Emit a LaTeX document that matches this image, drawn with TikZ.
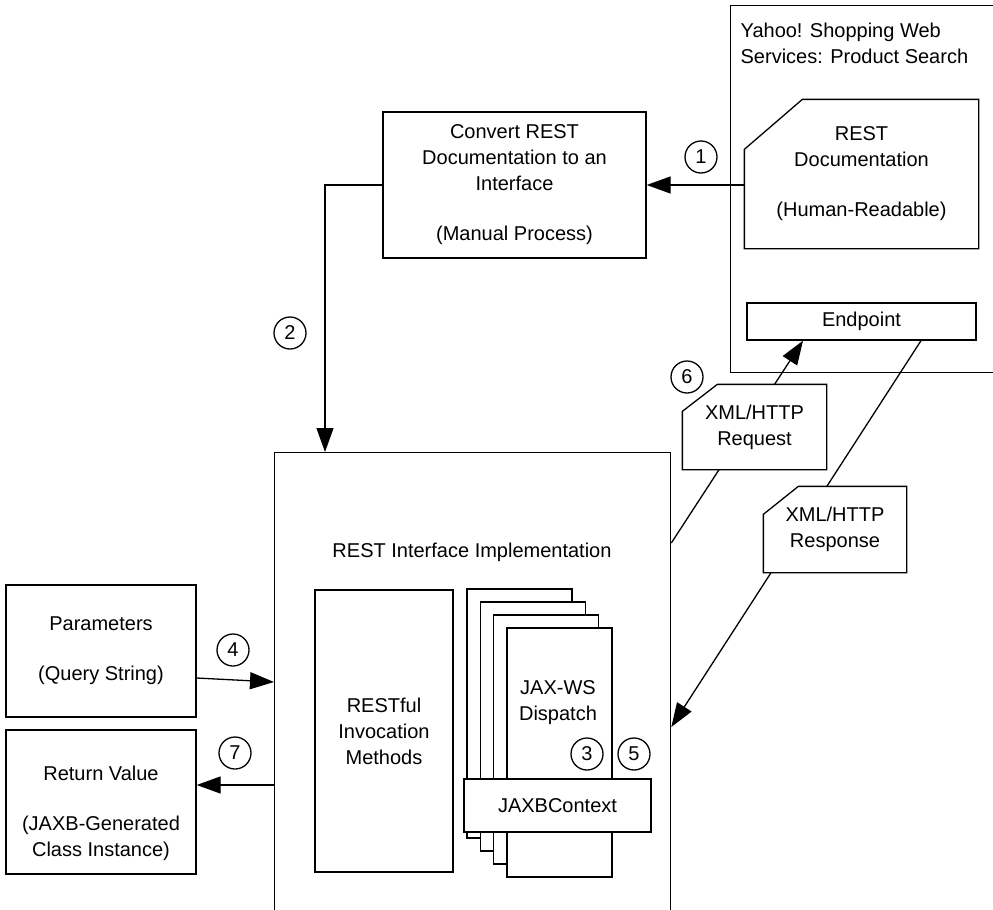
\documentclass[tikz,border=0pt]{standalone}
\usepackage{fontspec}
\setmainfont{Liberation Sans}
\usepackage{tikz}
\usetikzlibrary{arrows.meta}
\newcommand{\cutcorner}[3]{\draw[box, fill=white] ([yshift=-#3]#1.north west) -- ([xshift=#2]#1.north west) -- (#1.north east) -- (#1.south east) -- (#1.south west) -- cycle;}

\begin{document}
\begin{tikzpicture}[x=1pt, y=-1pt, line width=1.3pt,
  every node/.style={font=\fontsize{20}{26}\selectfont, align=center, inner sep=0pt},
  box/.style={draw, rectangle},
  hold/.style={rectangle},
  num/.style={circle, draw, minimum size=32pt},
  arr/.style={-{Triangle[length=24pt, width=17pt]}}]
\path[use as bounding box, clip] (0,0) rectangle (993,910);
\fill[white] (0,0) rectangle (993,910);
% web service side
\node[box, anchor=north west, minimum width=300pt, minimum height=367pt] (yahoo) at (730,5) {};
\node[anchor=north west, align=left] (yahootxt) at (740,22) {Yahoo! Shopping Web\\Services: Product Search};
\node[hold, minimum width=233pt, minimum height=148pt] (doc) at (861.5,174) {};
\cutcorner{doc}{58pt}{50pt}
\node (doctxt) at (doc) {REST\\Documentation\\[24pt](Human-Readable)};
\node[box, minimum width=229pt, minimum height=37pt] (endp) at (861.5,321.5) {Endpoint};
% manual step
\node[box, minimum width=263pt, minimum height=146pt] (conv) at (514.5,185) {Convert REST\\Documentation to an\\Interface\\[24pt](Manual Process)};
% implementation
\node[box, anchor=north west, minimum width=396pt, minimum height=500pt] (main) at (274,452) {};
\node (maintxt) at (472,552) {REST Interface Implementation};
\node[box, minimum width=138pt, minimum height=282pt] (rim) at (384,731) {RESTful\\Invocation\\Methods};
\foreach \i in {0,...,3}
  \node[box, fill=white, minimum width=105pt, minimum height=249pt] (disp\i) at (519.5+13.3*\i, 713.5+13*\i) {};
\node (disptxt) at (558,703) {JAX-WS\\Dispatch};
\node[box, fill=white, minimum width=187pt, minimum height=53pt] (jaxb) at (557.5,805.5) {JAXBContext};
% client side
\node[box, minimum width=190pt, minimum height=132pt] (params) at (101,651) {Parameters\\[24pt](Query String)};
\node[box, minimum width=190pt, minimum height=144pt] (ret) at (101,802) {};
\node (rettxt) at (101,813) {Return Value\\[24pt](JAXB-Generated\\Class Instance)};
% messages
\draw[arr] (main.east |- 0,543) -- (803,0 |- endp.south);
\draw[arr] (921,0 |- endp.south) -- (main.east |- 0,727);
\node[hold, minimum width=143pt, minimum height=84pt] (req) at (754.5,427) {};
\cutcorner{req}{35pt}{27pt}
\node (reqtxt) at (req) {XML/HTTP\\Request};
\node[hold, minimum width=142pt, minimum height=85pt] (resp) at (835,529.5) {};
\cutcorner{resp}{35pt}{28pt}
\node (resptxt) at (resp) {XML/HTTP\\Response};
% steps
\node[num] (n1) at (701,157) {1};
\node[num] (n2) at (290,333) {2};
\node[num] (n3) at (587,754) {3};
\node[num] (n4) at (233,650) {4};
\node[num] (n5) at (634,754) {5};
\node[num] (n6) at (687,377) {6};
\node[num] (n7) at (235,753) {7};
% connectors
\draw[arr] (doc.west |- conv.east) -- (conv.east);
\draw[arr] (conv.west) -| ([xshift=51pt]main.north west);
\draw[arr] ([yshift=-27pt]params.east) -- (main.west |- 0,682);
\coordinate (r7) at ([yshift=17pt]ret.east);
\draw[arr] (r7 -| main.west) -- (r7);
\end{tikzpicture}
\end{document}
